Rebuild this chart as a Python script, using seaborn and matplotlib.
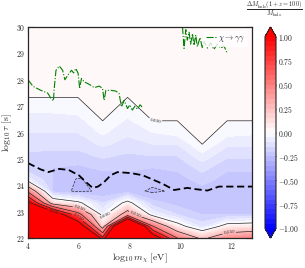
import numpy as np
import matplotlib
matplotlib.use("Agg")
import matplotlib.pyplot as plt
import seaborn as sns
from matplotlib.ticker import FuncFormatter

# ---- data -------------------------------------------------------------
log_m = [4.0, 4.978, 5.956, 6.933, 7.911, 8.889, 9.867, 10.844, 11.822, 12.8]
log_tau = [22.0, 22.444, 22.889, 23.333, 23.778, 24.222, 24.667, 25.111,
           25.556, 26.0, 26.444, 26.889, 27.333, 28.667, 30.0]

# dM_halo / M_halo, one row per log_tau value, one column per log_m value
dM_rows = [
    [3.0, 3.0, 3.0, 0.8, 3.0, 1.25, 0.5, 0.2, 0.41, 0.47],
    [3.0, 3.0, 1.3, 0.135, 2.1, 0.52, 0.06, -0.12, 0.056, 0.08],
    [2.0, 1.3, 0.6, -0.05, 0.36, -0.05, -0.15, -0.2, -0.2, -0.2],
    [1.1, 0.13, 0.03, -0.15, 0.04, -0.18, -0.22, -0.23, -0.23, -0.23],
    [0.45, -0.222, -0.26, -0.242, -0.227, -0.26, -0.24, -0.22, -0.23, -0.23],
    [-0.08, -0.2, -0.255, -0.23, -0.22, -0.23, -0.22, -0.18, -0.22, -0.22],
    [-0.19, -0.2, -0.21, -0.19, -0.19, -0.2, -0.19, -0.13, -0.19, -0.19],
    [-0.16, -0.17, -0.17, -0.14, -0.16, -0.15, -0.15, -0.07, -0.14, -0.14],
    [-0.13, -0.13, -0.13, -0.09, -0.12, -0.1, -0.1, 0.0, -0.09, -0.09],
    [-0.1, -0.1, -0.1, -0.04, -0.09, -0.05, -0.03, 0.03, -0.03, -0.04],
    [-0.07, -0.07, -0.07, 0.0, -0.06, 0.0, 0.0, 0.03, 0.0, 0.0],
    [-0.04, -0.04, -0.03, 0.03, -0.03, 0.03, 0.03, 0.03, 0.03, 0.03],
    [0.0, 0.0, 0.0, 0.03, 0.0, 0.03, 0.03, 0.03, 0.03, 0.03],
    [0.03, 0.03, 0.03, 0.03, 0.03, 0.03, 0.03, 0.03, 0.03, 0.03],
    [0.03, 0.03, 0.03, 0.03, 0.03, 0.03, 0.03, 0.03, 0.03, 0.03],
]
line_levels = [-0.25, 0.0, 0.25, 0.5, 0.75, 1.0]
cbar_ticks = [-1.0, -0.75, -0.5, -0.25, 0.0, 0.25, 0.5, 0.75, 1.0]

# chi -> gamma gamma constraint (two pieces)
gg1_x = [4.0, 4.2, 4.5, 4.77, 4.9, 5.0, 5.03, 5.1, 5.23, 5.36, 5.45, 5.56, 5.71,
         5.79, 5.88, 5.97, 6.03, 6.1, 6.21, 6.34, 6.47, 6.6, 6.8, 6.93, 6.99,
         7.06, 7.25, 7.45, 7.58, 7.67, 7.78, 7.91, 8.0, 8.1, 8.2, 8.3, 8.4, 8.5]
gg1_y = [28.0, 27.75, 27.6, 27.5, 27.3, 27.2, 27.67, 28.36, 28.52, 28.36, 28.0,
         28.17, 28.36, 28.26, 28.43, 28.24, 27.67, 28.05, 27.92, 27.86, 27.79,
         27.7, 27.76, 27.67, 27.22, 27.6, 27.6, 27.57, 27.48, 26.97, 27.22,
         26.91, 27.05, 26.85, 27.0, 26.88, 27.05, 26.95]
gg2_x = [10.07, 10.13, 10.2, 10.26, 10.33, 10.39, 10.46, 10.52, 10.59, 10.65,
         10.76, 10.85, 10.92, 11.05, 11.18, 11.3, 11.44, 11.57, 11.7, 11.83]
gg2_y = [30.0, 29.19, 29.9, 29.5, 29.8, 29.35, 29.75, 29.3, 29.7, 29.25, 29.6,
         29.2, 29.45, 29.2, 29.4, 29.15, 29.35, 29.2, 29.28, 29.0]

# thick dashed boundary
dash_x = [4.0, 4.5, 4.8, 5.23, 5.6, 6.01, 6.3, 6.54, 6.75, 6.99, 7.25, 7.52,
          8.05, 8.5, 8.82, 9.3, 9.74, 10.26, 10.6, 11.05, 11.5, 12.1, 12.8]
dash_y = [24.84, 24.6, 24.5, 24.62, 24.58, 24.37, 24.1, 23.9, 23.95, 24.12,
          24.38, 24.5, 24.46, 24.38, 24.25, 24.05, 23.82, 23.9, 23.85, 23.8,
          23.95, 23.95, 23.95]

# ---- style ------------------------------------------------------------
sns.set_style("ticks")
plt.rcParams.update({
    "font.family": ["DejaVu Serif"],
    "mathtext.fontset": "cm",
    "axes.linewidth": 0.9,
    "contour.negative_linestyle": "dashed",
})

fig = plt.figure(figsize=(3.05, 2.68), dpi=100)
ax = fig.add_axes([0.0918, 0.1119, 0.7344, 0.7873])
cax = fig.add_axes([0.8689, 0.1119, 0.036, 0.7873])

Z = np.array(dM_rows)
levels = np.linspace(-1, 1, 41)
cf = ax.contourf(log_m, log_tau, Z, levels=levels, cmap="bwr", extend="both")
cs = ax.contour(log_m, log_tau, Z, levels=line_levels, colors="0.15",
                linewidths=0.5)
ax.clabel(cs, fmt=lambda v: f"{v:.3f}", fontsize=3, inline=True,
          inline_spacing=1,
          manual=[(9.0, 26.5), (7.05, 22.85), (8.2, 22.85), (6.0, 23.1),
                  (6.0, 22.85), (5.0, 22.95), (11.9, 22.2)])

sns.lineplot(x=gg1_x, y=gg1_y, sort=False, estimator=None, ax=ax,
             color="green", lw=0.8, linestyle="-.", label=r"$\chi\to\gamma\gamma$")
sns.lineplot(x=gg2_x, y=gg2_y, sort=False, estimator=None, ax=ax,
             color="green", lw=0.8, linestyle="-.", legend=False)
sns.lineplot(x=dash_x, y=dash_y, sort=False, estimator=None, ax=ax,
             color="black", lw=1.3, linestyle=(0, (4, 2)), legend=False)

ax.set_xlim(4, 12.8)
ax.set_ylim(22, 30)
ax.set_xticks([4, 6, 8, 10, 12])
ax.set_yticks(list(range(22, 31)))
ax.xaxis.set_major_formatter(FuncFormatter(lambda v, p: f"${v:.0f}$"))
ax.yaxis.set_major_formatter(FuncFormatter(lambda v, p: f"${v:.0f}$"))
ax.tick_params(direction="in", top=True, right=True, length=4, width=0.8,
               labelsize=5.5, pad=2)
ax.set_xlabel(r"$\log_{10}m_\chi\ [\mathrm{eV}]$", fontsize=7, labelpad=1)
ax.set_ylabel(r"$\log_{10}\tau\ [\mathrm{s}]$", fontsize=7, labelpad=1)

leg = ax.legend(loc="upper right", fontsize=6, framealpha=0.8,
                edgecolor="none", fancybox=False, handlelength=1.2,
                borderpad=0.3, borderaxespad=0.5, handletextpad=0.3)

cb = fig.colorbar(cf, cax=cax, ticks=cbar_ticks)
cb.ax.yaxis.set_major_formatter(FuncFormatter(lambda v, p: f"${v:.2f}$"))
cb.ax.tick_params(direction="in", length=3, width=0.7, labelsize=5.5, pad=1.5)
cb.ax.minorticks_off()
cb.outline.set_linewidth(0.8)
fig.text(0.9, 0.963, r"$\frac{\Delta M_{\rm halo}(1+z=100)}{M_{\rm halo}}$",
         fontsize=6.5, ha="center", va="center")

fig.savefig("out.png", dpi=100)
